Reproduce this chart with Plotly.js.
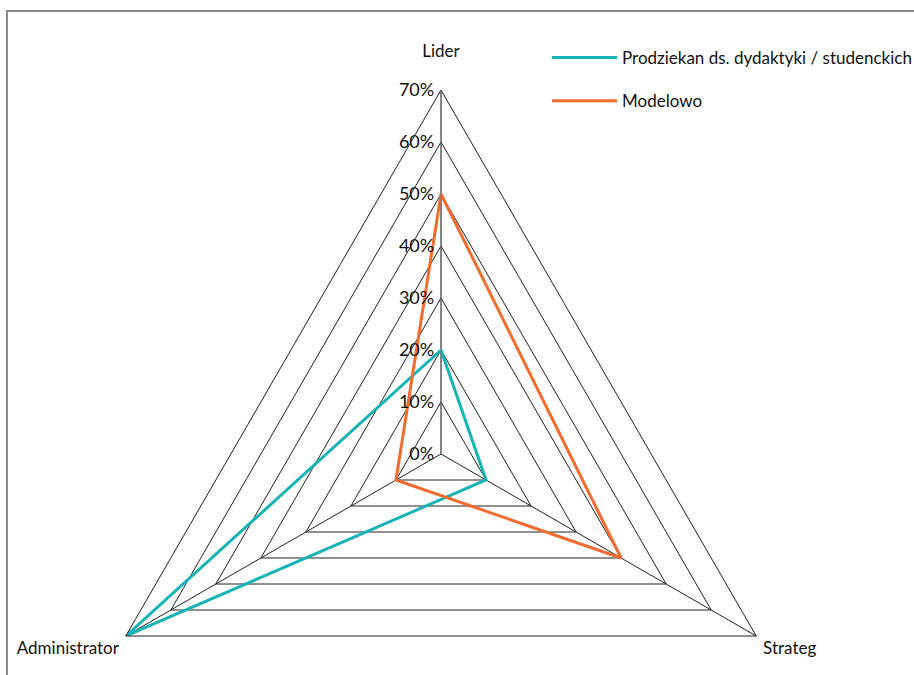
<!DOCTYPE html>
<html>
<head>
<meta charset="utf-8">
<script src="https://cdn.plot.ly/plotly-3.0.1.min.js"></script>
<style>
  html, body { margin: 0; padding: 0; background: #fff; }
  #wrap { position: relative; width: 914px; height: 675px; overflow: hidden; }
  #chart { position: absolute; left: 0; top: 0; width: 914px; height: 830px; }
  #frame { position: absolute; left: 6px; top: 10px; width: 1000px; height: 1000px;
           border: 2px solid #8a8a8a; box-sizing: border-box; pointer-events: none; }
</style>
</head>
<body>
<div id="wrap">
  <div id="chart"></div>
  <div id="frame"></div>
</div>
<script>
// Role profile: share of each role, actual vs. model
var categories = ['Lider', 'Strateg', 'Administrator'];
var prodziekan = [0.20, 0.10, 0.70];
var modelowo   = [0.50, 0.40, 0.10];
var seriesNames = ['Prodziekan ds. dydaktyki / studenckich', 'Modelowo'];
var seriesColors = ['#17b3b7', '#f26b2f'];

var FONT = 'Lato, "Liberation Sans", sans-serif';
function font(size) {
  return { family: FONT, size: size, color: '#111' };
}

function closed(arr) { return arr.concat([arr[0]]); }

// the top label sits a line higher above its vertex
var angularTickText = categories.map(function (c, i) {
  return i === 0 ? c + '<br>\u00a0' : c;
});

var traces = [prodziekan, modelowo].map(function (vals, i) {
  return {
    type: 'scatterpolar',
    mode: 'lines',
    r: closed(vals),
    theta: closed(categories),
    name: seriesNames[i],
    legendgroup: 'g' + i,
    line: { color: seriesColors[i], width: 3 },
    hoverinfo: 'skip'
  };
});

var W = 914, H = 830;
var cx = 441, cy = 454, R = 364;

var layout = {
  width: W,
  height: H,
  margin: { l: 0, r: 0, t: 0, b: 0, autoexpand: false },
  paper_bgcolor: '#fff',
  font: font(17),
  showlegend: true,
  legend: {
    x: 547 / W, xanchor: 'left',
    y: 1 - 40 / H, yanchor: 'top',
    traceorder: 'grouped',
    tracegroupgap: 18,
    itemwidth: 65,
    font: font(17),
    bgcolor: 'rgba(0,0,0,0)'
  },
  polar: {
    domain: { x: [(cx - R) / W, (cx + R) / W], y: [1 - (cy + R) / H, 1 - (cy - R) / H] },
    gridshape: 'linear',
    bgcolor: '#fff',
    angularaxis: {
      type: 'category',
      categoryarray: categories,
      tickmode: 'array',
      tickvals: categories,
      ticktext: angularTickText,
      rotation: 90,
      direction: 'clockwise',
      showline: true,
      linecolor: '#222',
      linewidth: 1,
      showgrid: true,
      gridcolor: '#222',
      gridwidth: 1,
      ticks: 'outside',
      ticklen: 4,
      tickcolor: 'rgba(0,0,0,0)',
      tickfont: font(17)
    },
    radialaxis: {
      range: [0, 0.7],
      dtick: 0.1,
      tick0: 0,
      tickformat: '.0%',
      tickangle: 90,
      angle: 90,
      side: 'counterclockwise',
      showline: true,
      linecolor: '#777',
      linewidth: 1,
      showgrid: true,
      gridcolor: '#222',
      gridwidth: 1,
      ticks: '',
      tickfont: font(18)
    }
  }
};

Plotly.newPlot('chart', traces, layout, { displayModeBar: false, staticPlot: true });
</script>
</body>
</html>
